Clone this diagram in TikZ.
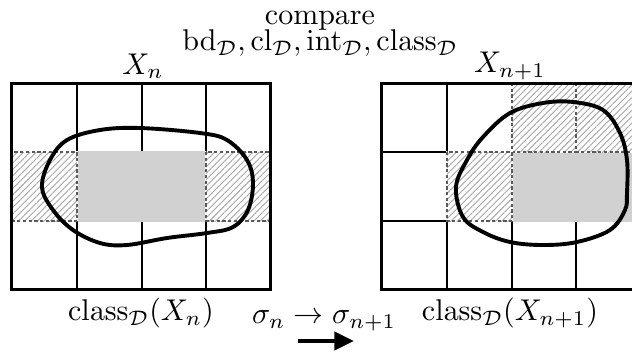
\documentclass[tikz,border=0pt]{standalone}
\usetikzlibrary{patterns.meta,arrows.meta}
\begin{document}
\begin{tikzpicture}[x=0.33333pt,y=-0.33333pt,
  gridline/.style={line width=0.35pt},
  outerbox/.style={line width=1pt},
  blob/.style={line width=1.3pt, line join=round},
  hatchpat/.style={pattern={Lines[angle=45,distance=1.5pt,line width=0.3pt]}, pattern color=black!35},
  hatchedge/.style={line width=0.35pt, draw=black!65, dash pattern=on 1.1pt off 0.8pt},
  grayfill/.style={fill=black!18},
  lbl/.style={inner sep=0pt, font=\normalsize},
  movearrow/.style={line width=1.3pt, -{Triangle[length=6.5pt,width=6pt]}}
]
\useasboundingbox (0,0) rectangle (632,354);
\clip (0,0) rectangle (632,354);

% ---------- left grid ----------
\foreach \x in {77,142,206} \draw[gridline] (\x,83) -- (\x,289);
\foreach \y in {152,221} \draw[gridline] (12,\y) -- (271,\y);
% gray cells
\fill[grayfill] (76,151) rectangle (207,222);
% hatched cells
\foreach \a/\b in {12/77,206/271}{
  \fill[white] (\a-1,151) rectangle (\b+1,222);
  \fill[hatchpat] (\a,152) rectangle (\b,221);
  \draw[hatchedge] (\a,152) rectangle (\b,221);
}
\draw[outerbox] (12,83) rectangle (271,289);

% ---------- right grid ----------
\foreach \x in {447,512,576} \draw[gridline] (\x,83) -- (\x,289);
\foreach \y in {152,221} \draw[gridline] (382,\y) -- (641,\y);
\fill[grayfill] (511,151) rectangle (642,222);
\foreach \a/\b/\c/\d in {512/83/576/152,576/83/641/152,447/152/512/221}{
  \fill[white] (\a-1,\b-1) rectangle (\c+1,\d+1);
  \fill[hatchpat] (\a,\b) rectangle (\c,\d);
  \draw[hatchedge] (\a,\b) rectangle (\c,\d);
}
\draw[outerbox] (382,83) rectangle (641,289);

% ---------- blobs ----------
\draw[blob] plot[smooth cycle, tension=0.6] coordinates {
  (42,187) (50,160) (67,140) (100,130) (140,128) (200,133) (227,140)
  (247,160) (253,183) (248,210) (233,227) (207,233) (167,238) (127,245)
  (100,243) (73,230) (53,210)};
\draw[blob] plot[smooth cycle, tension=0.6] coordinates {
  (456,187) (467,160) (483,137) (510,113) (543,103) (573,102) (603,110)
  (620,133) (627,160) (627,193) (625,210) (610,230) (577,242) (543,245)
  (510,242) (483,232) (463,217)};

% ---------- labels ----------
\node[lbl] (cmp) at (320,21) {compare};
\node[lbl] (ops) at (320,43) {$\mathrm{bd}_{\mathcal{D}}, \mathrm{cl}_{\mathcal{D}}, \mathrm{int}_{\mathcal{D}}, \mathrm{class}_{\mathcal{D}}$};
\node[lbl] (xn) at (143,66) {$X_n$};
\node[lbl] (xn1) at (510,66) {$X_{n+1}$};
\node[lbl] (cln) at (141,313) {$\mathrm{class}_{\mathcal{D}}(X_n)$};
\node[lbl] (cln1) at (510,313) {$\mathrm{class}_{\mathcal{D}}(X_{n+1})$};
\node[lbl] (sig) at (324,321) {$\sigma_n \to \sigma_{n+1}$};
\coordinate (arrs) at (298,341);
\coordinate (arre) at (354,341);
\draw[movearrow] (arrs) -- (arre);
\end{tikzpicture}
\end{document}
